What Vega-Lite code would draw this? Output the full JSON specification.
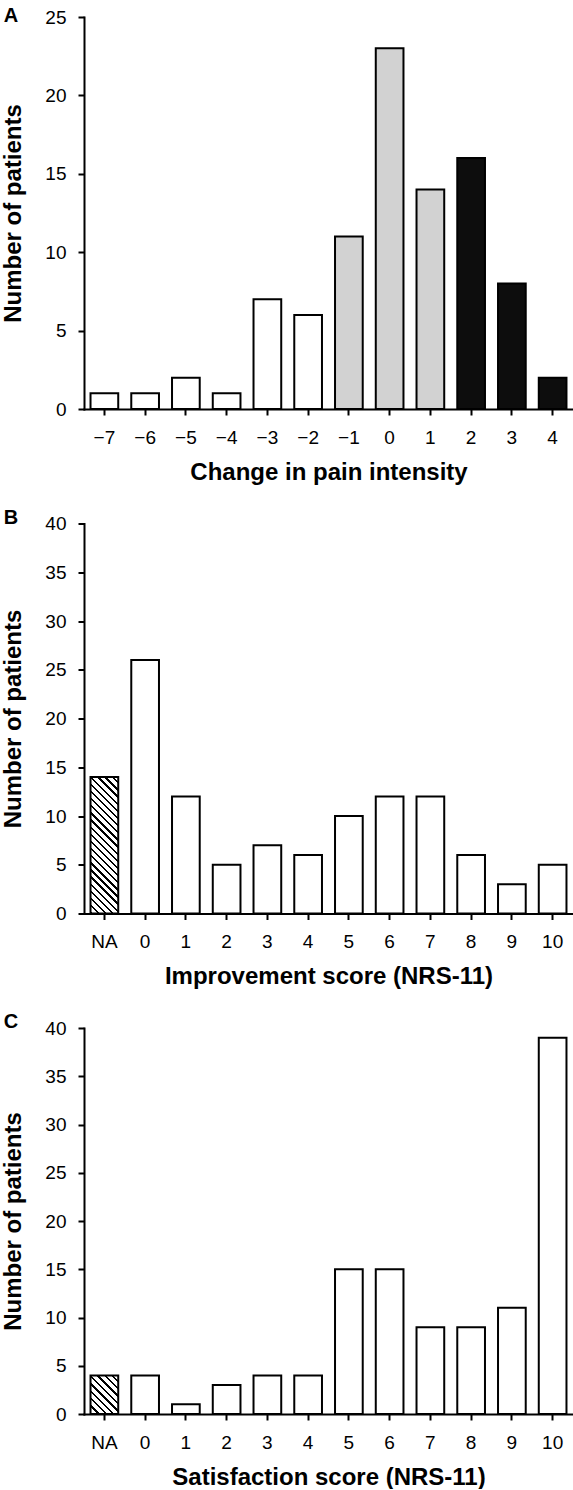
{
  "$schema": "https://vega.github.io/schema/vega-lite/v6.json",
  "background": "white",
  "padding": {"left": 1, "top": 6, "right": 0, "bottom": 0},
  "bounds": "flush",
  "spacing": 114.5,
  "config": {
    "view": {"stroke": null},
    "font": "Liberation Sans",
    "style": {"group-title": {"font": "Liberation Sans", "fontSize": 20, "fontWeight": "bold", "fill": "black"}},
    "axis": {
      "domainColor": "black", "domainWidth": 2, "domainCap": "square",
      "tickColor": "black", "tickWidth": 2, "tickSize": 6,
      "labelFont": "Liberation Sans", "labelFontSize": 19, "labelColor": "black",
      "titleFont": "Liberation Sans", "titleFontSize": 24, "titleFontWeight": "bold", "titleColor": "black",
      "grid": false
    },
    "axisX": {"labelAngle": 0, "labelPadding": 13, "titlePadding": 13},
    "axisY": {"labelPadding": 12, "titlePadding": 19}
  },
  "datasets": {
    "painChange": [
      {"change": "−7", "patients": 1, "class": "worse"},
      {"change": "−6", "patients": 1, "class": "worse"},
      {"change": "−5", "patients": 2, "class": "worse"},
      {"change": "−4", "patients": 1, "class": "worse"},
      {"change": "−3", "patients": 7, "class": "worse"},
      {"change": "−2", "patients": 6, "class": "worse"},
      {"change": "−1", "patients": 11, "class": "minimal"},
      {"change": "0", "patients": 23, "class": "minimal"},
      {"change": "1", "patients": 14, "class": "minimal"},
      {"change": "2", "patients": 16, "class": "relevant"},
      {"change": "3", "patients": 8, "class": "relevant"},
      {"change": "4", "patients": 2, "class": "relevant"}
    ],
    "improvement": [
      {"score": "NA", "patients": 14},
      {"score": "0", "patients": 26},
      {"score": "1", "patients": 12},
      {"score": "2", "patients": 5},
      {"score": "3", "patients": 7},
      {"score": "4", "patients": 6},
      {"score": "5", "patients": 10},
      {"score": "6", "patients": 12},
      {"score": "7", "patients": 12},
      {"score": "8", "patients": 6},
      {"score": "9", "patients": 3},
      {"score": "10", "patients": 5}
    ],
    "satisfaction": [
      {"score": "NA", "patients": 4},
      {"score": "0", "patients": 4},
      {"score": "1", "patients": 1},
      {"score": "2", "patients": 3},
      {"score": "3", "patients": 4},
      {"score": "4", "patients": 4},
      {"score": "5", "patients": 15},
      {"score": "6", "patients": 15},
      {"score": "7", "patients": 9},
      {"score": "8", "patients": 9},
      {"score": "9", "patients": 11},
      {"score": "10", "patients": 39}
    ]
  },
  "vconcat": [
    {
      "title": {"text": "A", "font": "Liberation Sans", "fontSize": 20, "fontWeight": "bold", "color": "black", "anchor": "start", "frame": "bounds", "offset": -18, "dx": 2},
      "width": 489, "height": 392,
      "data": {"name": "painChange"},
      "mark": {"type": "bar", "stroke": "black", "strokeWidth": 2},
      "encoding": {
        "x": {"field": "change", "type": "ordinal", "sort": null, "title": "Change in pain intensity",
              "scale": {"paddingInner": 0.32, "paddingOuter": 0.16}},
        "y": {"field": "patients", "type": "quantitative", "title": "Number of patients",
              "scale": {"domain": [0, 25], "nice": false}, "axis": {"values": [0, 5, 10, 15, 20, 25]}},
        "fill": {"field": "class", "type": "nominal", "legend": null,
                 "scale": {"domain": ["worse", "minimal", "relevant"], "range": ["white", "#d2d2d2", "#0d0d0d"]}}
      }
    },
    {
      "title": {"text": "B", "font": "Liberation Sans", "fontSize": 20, "fontWeight": "bold", "color": "black", "anchor": "start", "frame": "bounds", "offset": -13, "dx": 2},
      "width": 489, "height": 390,
      "data": {"name": "improvement"},
      "mark": {"type": "bar", "stroke": "black", "strokeWidth": 2},
      "encoding": {
        "x": {"field": "score", "type": "ordinal", "sort": null, "title": "Improvement score (NRS-11)",
              "scale": {"paddingInner": 0.32, "paddingOuter": 0.16}},
        "y": {"field": "patients", "type": "quantitative", "title": "Number of patients",
              "scale": {"domain": [0, 40], "nice": false}, "axis": {"values": [0, 5, 10, 15, 20, 25, 30, 35, 40]}},
        "fill": {
          "condition": {"test": "datum.score === 'NA'", "value": {
            "gradient": "linear", "x1": 0, "y1": 1, "x2": 0.2345, "y2": -0.1554,
            "stops": [
              {"offset": 0, "color": "black"}, {"offset": 0.0139, "color": "black"}, {"offset": 0.0139, "color": "white"}, {"offset": 0.0435, "color": "white"},
              {"offset": 0.0435, "color": "black"}, {"offset": 0.0574, "color": "black"}, {"offset": 0.0574, "color": "white"}, {"offset": 0.0870, "color": "white"},
              {"offset": 0.0870, "color": "black"}, {"offset": 0.1009, "color": "black"}, {"offset": 0.1009, "color": "white"}, {"offset": 0.1304, "color": "white"},
              {"offset": 0.1304, "color": "black"}, {"offset": 0.1443, "color": "black"}, {"offset": 0.1443, "color": "white"}, {"offset": 0.1739, "color": "white"},
              {"offset": 0.1739, "color": "black"}, {"offset": 0.1878, "color": "black"}, {"offset": 0.1878, "color": "white"}, {"offset": 0.2174, "color": "white"},
              {"offset": 0.2174, "color": "black"}, {"offset": 0.2313, "color": "black"}, {"offset": 0.2313, "color": "white"}, {"offset": 0.2609, "color": "white"},
              {"offset": 0.2609, "color": "black"}, {"offset": 0.2748, "color": "black"}, {"offset": 0.2748, "color": "white"}, {"offset": 0.3043, "color": "white"},
              {"offset": 0.3043, "color": "black"}, {"offset": 0.3183, "color": "black"}, {"offset": 0.3183, "color": "white"}, {"offset": 0.3478, "color": "white"},
              {"offset": 0.3478, "color": "black"}, {"offset": 0.3617, "color": "black"}, {"offset": 0.3617, "color": "white"}, {"offset": 0.3913, "color": "white"},
              {"offset": 0.3913, "color": "black"}, {"offset": 0.4052, "color": "black"}, {"offset": 0.4052, "color": "white"}, {"offset": 0.4348, "color": "white"},
              {"offset": 0.4348, "color": "black"}, {"offset": 0.4487, "color": "black"}, {"offset": 0.4487, "color": "white"}, {"offset": 0.4783, "color": "white"},
              {"offset": 0.4783, "color": "black"}, {"offset": 0.4922, "color": "black"}, {"offset": 0.4922, "color": "white"}, {"offset": 0.5217, "color": "white"},
              {"offset": 0.5217, "color": "black"}, {"offset": 0.5357, "color": "black"}, {"offset": 0.5357, "color": "white"}, {"offset": 0.5652, "color": "white"},
              {"offset": 0.5652, "color": "black"}, {"offset": 0.5791, "color": "black"}, {"offset": 0.5791, "color": "white"}, {"offset": 0.6087, "color": "white"},
              {"offset": 0.6087, "color": "black"}, {"offset": 0.6226, "color": "black"}, {"offset": 0.6226, "color": "white"}, {"offset": 0.6522, "color": "white"},
              {"offset": 0.6522, "color": "black"}, {"offset": 0.6661, "color": "black"}, {"offset": 0.6661, "color": "white"}, {"offset": 0.6957, "color": "white"},
              {"offset": 0.6957, "color": "black"}, {"offset": 0.7096, "color": "black"}, {"offset": 0.7096, "color": "white"}, {"offset": 0.7391, "color": "white"},
              {"offset": 0.7391, "color": "black"}, {"offset": 0.7530, "color": "black"}, {"offset": 0.7530, "color": "white"}, {"offset": 0.7826, "color": "white"},
              {"offset": 0.7826, "color": "black"}, {"offset": 0.7965, "color": "black"}, {"offset": 0.7965, "color": "white"}, {"offset": 0.8261, "color": "white"},
              {"offset": 0.8261, "color": "black"}, {"offset": 0.8400, "color": "black"}, {"offset": 0.8400, "color": "white"}, {"offset": 0.8696, "color": "white"},
              {"offset": 0.8696, "color": "black"}, {"offset": 0.8835, "color": "black"}, {"offset": 0.8835, "color": "white"}, {"offset": 0.9130, "color": "white"},
              {"offset": 0.9130, "color": "black"}, {"offset": 0.9270, "color": "black"}, {"offset": 0.9270, "color": "white"}, {"offset": 0.9565, "color": "white"},
              {"offset": 0.9565, "color": "black"}, {"offset": 0.9704, "color": "black"}, {"offset": 0.9704, "color": "white"}, {"offset": 1, "color": "white"}
            ]
          }},
          "value": "white"
        }
      }
    },
    {
      "title": {"text": "C", "font": "Liberation Sans", "fontSize": 20, "fontWeight": "bold", "color": "black", "anchor": "start", "frame": "bounds", "offset": -13, "dx": 2},
      "width": 489, "height": 386,
      "data": {"name": "satisfaction"},
      "mark": {"type": "bar", "stroke": "black", "strokeWidth": 2},
      "encoding": {
        "x": {"field": "score", "type": "ordinal", "sort": null, "title": "Satisfaction score (NRS-11)",
              "scale": {"paddingInner": 0.32, "paddingOuter": 0.16}},
        "y": {"field": "patients", "type": "quantitative", "title": "Number of patients",
              "scale": {"domain": [0, 40], "nice": false}, "axis": {"values": [0, 5, 10, 15, 20, 25, 30, 35, 40]}},
        "fill": {
          "condition": {"test": "datum.score === 'NA'", "value": {
            "gradient": "linear", "x1": 0, "y1": 1, "x2": 0.814, "y2": -0.134,
            "stops": [
              {"offset": 0, "color": "black"}, {"offset": 0.0356, "color": "black"}, {"offset": 0.0356, "color": "white"}, {"offset": 0.1111, "color": "white"},
              {"offset": 0.1111, "color": "black"}, {"offset": 0.1467, "color": "black"}, {"offset": 0.1467, "color": "white"}, {"offset": 0.2222, "color": "white"},
              {"offset": 0.2222, "color": "black"}, {"offset": 0.2578, "color": "black"}, {"offset": 0.2578, "color": "white"}, {"offset": 0.3333, "color": "white"},
              {"offset": 0.3333, "color": "black"}, {"offset": 0.3689, "color": "black"}, {"offset": 0.3689, "color": "white"}, {"offset": 0.4444, "color": "white"},
              {"offset": 0.4444, "color": "black"}, {"offset": 0.4800, "color": "black"}, {"offset": 0.4800, "color": "white"}, {"offset": 0.5556, "color": "white"},
              {"offset": 0.5556, "color": "black"}, {"offset": 0.5911, "color": "black"}, {"offset": 0.5911, "color": "white"}, {"offset": 0.6667, "color": "white"},
              {"offset": 0.6667, "color": "black"}, {"offset": 0.7022, "color": "black"}, {"offset": 0.7022, "color": "white"}, {"offset": 0.7778, "color": "white"},
              {"offset": 0.7778, "color": "black"}, {"offset": 0.8133, "color": "black"}, {"offset": 0.8133, "color": "white"}, {"offset": 0.8889, "color": "white"},
              {"offset": 0.8889, "color": "black"}, {"offset": 0.9244, "color": "black"}, {"offset": 0.9244, "color": "white"}, {"offset": 1, "color": "white"}
            ]
          }},
          "value": "white"
        }
      }
    }
  ]
}
